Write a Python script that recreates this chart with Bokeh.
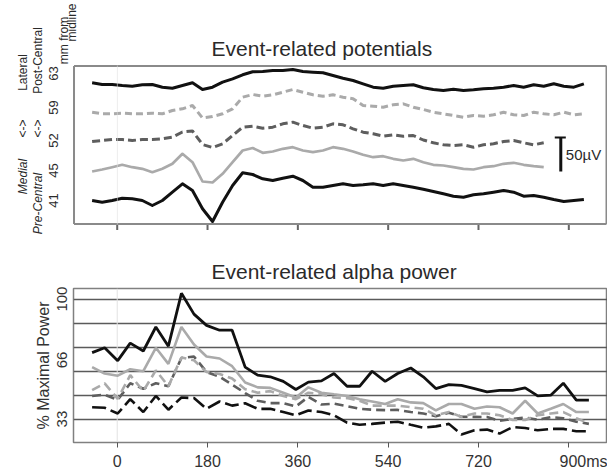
import math
from bokeh.plotting import figure
from bokeh.models import FixedTicker, Range1d, BoxAnnotation
from bokeh.core.properties import value
from bokeh.embed import file_html
from bokeh.resources import INLINE

FONT = "Liberation Sans"

# ---------------- Event-related potentials (stacked display, 34 units = 50 uV) ----------------
erp_time = [-50, -30, -10, 10, 30, 50, 70, 90, 110, 130, 150, 170, 190, 210, 230, 250, 270, 290,
            310, 330, 350, 370, 390, 410, 430, 450, 470, 490, 510, 530, 550, 570, 590, 610, 630,
            650, 670, 690, 710, 730, 750, 770, 790, 810, 830, 850, 870, 890, 910, 930]
erp_63 = [141.7, 140, 140, 139, 138.3, 139.7, 140, 137.3, 136.3, 139, 141.7, 135, 137.3, 142.3,
          145.7, 149.7, 152.7, 153, 154, 154, 155, 153, 152.3, 151.7, 149, 146.3, 144, 140.7,
          137.3, 136.3, 138.3, 139, 139.7, 136.7, 135, 134, 135.3, 134, 134.7, 135.7, 136.3,
          137.3, 139, 137.3, 139.7, 138.3, 140.7, 138.3, 137.3, 140.7]
erp_59 = [112.3, 110.7, 110.7, 111.3, 110.7, 110.7, 111.3, 110.7, 114, 115.7, 119, 106.5, 108,
          110.7, 115.7, 127.3, 130, 128.3, 129.7, 132.3, 135, 132.3, 129.7, 128.3, 129.7, 127.3,
          125.7, 119, 118.3, 117.3, 119.7, 120.7, 117.3, 115, 112.3, 110.7, 109, 107.3, 109,
          108.3, 109.7, 112.3, 109.7, 109, 112.3, 110.7, 109.7, 112.3, 109.7, 110.7]
erp_52 = [83, 84, 85, 85, 84, 85, 85, 85.7, 87.3, 92.5, 93.5, 80, 77, 80.7, 89, 97.3, 98.3, 96.3,
          97.3, 100.7, 102.3, 99, 96.3, 97.3, 100.7, 99.7, 95.7, 92.3, 90.7, 88.3, 89.7, 88.3, 89,
          84.5, 81.7, 79.7, 79, 79.7, 77.3, 79.7, 80.7, 83, 84, 81.7, 79.7, 81.7]
erp_45 = [53, 55, 57.3, 59.7, 57.3, 55.7, 52.3, 55.7, 60.7, 70.7, 62.3, 43, 42, 50.7, 62.3, 74,
          76.5, 71.7, 73, 75.7, 77.3, 74, 72.3, 74, 77.3, 75.7, 73, 69.7, 67.3, 68.3, 65.7, 64,
          65.7, 62.3, 59.7, 59, 57.3, 55.7, 55, 57.3, 58.3, 60.7, 61.7, 59.7, 58.3, 57.3]
erp_41 = [24, 22.3, 24, 26.3, 25.7, 24, 19, 24, 32.3, 40.7, 34, 15.7, 3, 22.3, 39, 51.7, 50, 45.7,
          44, 46.3, 48.3, 44, 37.3, 37.3, 39, 40.7, 39, 39.7, 40.7, 39, 40.7, 39, 37.3, 35.3, 33,
          30.7, 28.3, 27.3, 29.7, 30.7, 32.3, 34, 32.3, 28.3, 29, 27.3, 25, 23, 24, 25]
channel_mm = ["41", "45", "52", "59", "63"]
channel_level = [24, 54, 84, 117, 151]
ERP_TOP = 159         # display units shown in the panel
SCALE_UNITS = 34      # display units that correspond to 50 uV
SCALE_LABEL = "50\u00b5V"

# ---------------- Event-related alpha power (% maximal power) ----------------
pow_time = [-50, -25, 1, 26, 52, 77, 102, 128, 153, 178, 204, 229, 255, 280, 305, 331, 356, 381,
            407, 432, 458, 483, 508, 534, 559, 585, 610, 635, 661, 686, 712, 737, 762, 788, 813,
            838, 864, 889, 915, 940]
pow_s1 = [70.1, 72.8, 65.6, 75.4, 71.0, 84.4, 73.7, 103.2, 91.6, 85.3, 82.6, 82.6, 62.0, 57.5,
          56.6, 54.0, 49.5, 53.6, 54.3, 58.4, 51.3, 51.3, 59.7, 54.0, 58.4, 61.5, 56.6, 50.0, 52.2,
          51.8, 50.0, 48.2, 49.0, 49.0, 50.4, 45.9, 46.3, 53.0, 43.6, 43.6]
pow_s2 = [62.0, 58.4, 57.2, 60.8, 59.7, 72.8, 63.8, 84.4, 74.6, 67.9, 66.8, 62.5, 53.4, 50.7,
          50.4, 47.7, 45.0, 50.7, 47.7, 46.8, 45.9, 44.1, 42.8, 41.4, 44.1, 42.3, 41.9, 37.8, 41.4,
          41.4, 38.7, 40.0, 39.6, 36.1, 43.2, 36.1, 38.7, 41.4, 36.9, 36.9]
pow_s3 = [49.1, 52.9, 44.3, 57.5, 48.6, 60.2, 51.3, 67.4, 65.8, 59.3, 58.2, 55.6, 49.7, 47.7,
          48.6, 45.9, 44.1, 47.7, 46.8, 45.0, 44.7, 43.2, 40.5, 40.5, 40.5, 39.6, 38.7, 35.1, 36.9,
          34.2, 36.1, 36.1, 35.1, 32.5, 32.5, 35.1, 36.1, 36.9, 33.4, 30.7]
pow_s4 = [45.9, 46.6, 43.7, 53.0, 49.9, 53.0, 51.3, 67.1, 67.9, 59.3, 56.6, 52.2, 47.5, 43.2,
          41.9, 41.9, 40.0, 45.4, 41.1, 41.6, 40.2, 38.7, 38.2, 38.0, 38.1, 36.9, 36.1, 34.6, 36.5,
          34.3, 34.2, 34.1, 32.0, 33.0, 33.8, 32.6, 34.1, 33.4, 31.5, 30.3]
pow_s5 = [39.6, 39.3, 36.1, 44.1, 36.9, 45.9, 38.2, 45.0, 44.7, 38.7, 42.8, 40.5, 41.8, 38.7,
          38.7, 36.9, 35.1, 37.8, 36.9, 35.1, 31.0, 29.8, 30.3, 31.0, 31.5, 29.8, 28.2, 28.9, 30.3,
          24.4, 26.7, 27.1, 24.9, 28.5, 28.0, 26.7, 27.5, 27.5, 26.2, 26.2]
pow_ticks = [33, 66, 100]
pow_grid = [33, 46.4, 59.8, 73.2, 86.6, 100]
time_ticks = [0, 180, 360, 540, 720, 900]
time_labels = ["0", "180", "360", "540", "720", "\u00a0" * 7 + "900ms"]

FRAME = "#808080"
BLACK = "#111111"
LIGHT = "#aaaaaa"
DARK = "#5e5e5e"
TXT = "#2a2a2a"
T0, T1 = -87.1, 977.1     # time span of the panel boxes

# ================= top panel: one canvas, box, ticks and side labels drawn in it =================
p1 = figure(width=607, height=240, output_backend="svg", toolbar_location=None, title=None,
            x_range=Range1d(-232.6, 977.1), y_range=Range1d(-16, 224),
            x_axis_location=None, y_axis_location=None,
            min_border_left=0, min_border_right=0, min_border_top=0, min_border_bottom=0)
p1.grid.visible = False
p1.outline_line_color = None
p1.background_fill_color = "white"
p1.border_fill_color = "white"


def bar(left, right, bottom, top, color):
    p1.add_layout(BoxAnnotation(left=left, right=right, bottom=bottom, top=top,
                                fill_color=color, fill_alpha=1, line_color=None))


bar(-0.6, 0.6, 0, ERP_TOP, "#e0e0e0")

p1.text(x=[188], y=[176], text=["Event-related potentials"], text_font=value(FONT),
        text_font_size=value("21px"), text_color=TXT, text_align="left",
        text_baseline="alphabetic")

n52 = len(erp_52)
p1.line(erp_time, erp_63, line_color=BLACK, line_width=3, line_join="round")
p1.line(erp_time, erp_59, line_color=LIGHT, line_width=3, line_dash="7 4")
p1.line(erp_time[:n52], erp_52, line_color=DARK, line_width=3, line_dash="8 4")
p1.line(erp_time[:len(erp_45)], erp_45, line_color=LIGHT, line_width=2.7, line_join="round")
p1.line(erp_time, erp_41, line_color=BLACK, line_width=3, line_join="round")

# panel box (four sides) and outward time ticks
bl, br = T0 + 1.0, T1 - 2.0
p1.line([bl, br], [ERP_TOP - 0.5, ERP_TOP - 0.5], line_color="#8a8a8a", line_width=2)
p1.line([bl, br], [0.5, 0.5], line_color="#8a8a8a", line_width=2)
p1.line([bl, bl], [0.5, ERP_TOP - 0.5], line_color="#8a8a8a", line_width=2)
p1.line([br, br], [0.5, ERP_TOP - 0.5], line_color="#8a8a8a", line_width=2)
for t in time_ticks:
    p1.line([t, t], [-0.5, -5.5], line_color="#666666", line_width=2)

# scale bar
bar_t = 884
p1.line([bar_t, bar_t], [53, 53 + SCALE_UNITS], line_color=BLACK, line_width=3)
p1.line([bar_t - 12, bar_t + 10], [53 + SCALE_UNITS, 53 + SCALE_UNITS], line_color=BLACK,
        line_width=2)
p1.text(x=[bar_t + 10], y=[53 + SCALE_UNITS / 2], text=[SCALE_LABEL], text_font=value(FONT),
        text_font_size=value("15px"), text_color=TXT, text_align="left", text_baseline="middle")

up = math.pi / 2


def side(xs, ys, txts, size, style="normal"):
    p1.text(x=xs, y=ys, text=txts, angle=up, text_font=value(FONT),
            text_font_size=value(size), text_font_style=style, text_color=TXT,
            text_align="center", text_baseline="middle")


side([-187, -187, -157, -157], [152, 96, 164, 96], ["Lateral", "<->", "Post-Central", "<->"], "12px")
side([-187, -157], [48, 21], ["Medial", "Pre-Central"], "12px", "italic")
side([-127] * 5, channel_level, channel_mm, "13px")
side([-107, -90], [184, 202], ["mm from", "midline"], "12px")

# ================= bottom panel =================
p2 = figure(width=607, height=232, output_backend="svg", toolbar_location=None,
            x_range=Range1d(T0, T1), y_range=Range1d(19.9, 105.9),
            min_border_left=73, min_border_right=0, min_border_top=48, min_border_bottom=24)
p2.title.text = "Event-related alpha power"
p2.title.align = "left"
p2.title.offset = 138
p2.title.standoff = 12
p2.title.text_font = FONT
p2.title.text_font_size = "21px"
p2.title.text_font_style = "normal"
p2.title.text_color = TXT
p2.outline_line_color = FRAME
p2.outline_line_width = 1.5
p2.background_fill_color = "white"
p2.border_fill_color = "white"
p2.xgrid.visible = False
p2.xaxis.ticker = FixedTicker(ticks=time_ticks)
p2.xaxis.minor_tick_line_color = None
p2.xaxis.major_tick_out = 5
p2.xaxis.major_tick_in = 0
p2.xaxis.major_tick_line_color = "#555555"
p2.xaxis.axis_line_color = FRAME
p2.xaxis.major_label_text_font = FONT
p2.xaxis.major_label_text_font_size = "16px"
p2.xaxis.major_label_text_color = "#333333"
p2.xaxis.major_label_overrides = dict(zip(time_ticks, time_labels))
p2.ygrid.ticker = FixedTicker(ticks=pow_grid)
p2.ygrid.grid_line_color = "#5a5a5a"
p2.ygrid.grid_line_width = 1.3
p2.yaxis.ticker = FixedTicker(ticks=pow_ticks)
p2.yaxis.major_label_orientation = "vertical"
p2.yaxis.major_tick_out = 0
p2.yaxis.major_tick_in = 0
p2.yaxis.minor_tick_line_color = None
p2.yaxis.axis_line_color = None
p2.yaxis.major_label_standoff = 6
p2.yaxis.major_label_text_font = FONT
p2.yaxis.major_label_text_font_size = "15px"
p2.yaxis.major_label_text_color = "#333333"
p2.yaxis.axis_label = "% Maximal Power"
p2.yaxis.axis_label_text_font = FONT
p2.yaxis.axis_label_text_font_size = "16px"
p2.yaxis.axis_label_text_font_style = "normal"
p2.yaxis.axis_label_text_color = "#333333"
p2.yaxis.axis_label_standoff = 3

p2.line([0, 0], [19.9, 105.9], line_color="#e2e2e2", line_width=1)
p2.line(pow_time, pow_s5, line_color=BLACK, line_width=2.6, line_dash="14 5")
p2.line(pow_time, pow_s4, line_color=DARK, line_width=2.6, line_dash="9 5")
p2.line(pow_time, pow_s3, line_color=LIGHT, line_width=2.6, line_dash="9 5")
p2.line(pow_time, pow_s2, line_color=LIGHT, line_width=2.6)
p2.line(pow_time, pow_s1, line_color=BLACK, line_width=2.8)

open("out.html", "w").write(file_html([p1, p2], INLINE))
